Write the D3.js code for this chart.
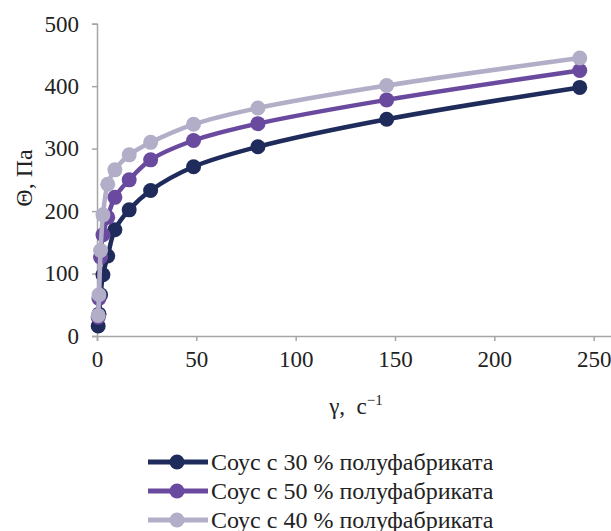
<!DOCTYPE html>
<html>
<head>
<meta charset="utf-8">
<script src="https://cdn.jsdelivr.net/npm/d3@7"></script>
<style>
  body { margin: 0; background: #fff; }
  svg { display: block; font-family: "Liberation Serif", "Times New Roman", serif; }
</style>
</head>
<body>
<svg id="chart" width="611" height="531"></svg>
<script>
// shear rate, 1/s
var shearRate = [0.6, 1.0, 1.8, 3.0, 5.4, 9, 16.2, 27, 48.6, 81, 145.8, 243];
var stress30 = [16, 35, 66, 98, 128, 170, 202, 233, 271, 303, 347, 398];
var stress50 = [30, 60, 126, 162, 190, 222, 250, 282, 313, 340, 378, 425];
var stress40 = [33, 66, 137, 194, 243, 266, 290, 310, 339, 365, 401, 445];
var seriesNames = ['Соус с 30 % полуфабриката', 'Соус с 50 % полуфабриката', 'Соус с 40 % полуфабриката'];
var seriesColors = ['#1f2b5b', '#6a4a9e', '#b3aec8'];
var xTicks = [0, 50, 100, 150, 200, 250];
var yTicks = [0, 100, 200, 300, 400, 500];

var series = [stress30, stress50, stress40].map(function (vals, i) {
    return {
        name: seriesNames[i],
        color: seriesColors[i],
        points: vals.map(function (v, j) { return [shearRate[j], v]; })
    };
});

var svg = d3.select('#chart');
var axisColor = '#a6a6a6';

var x = d3.scaleLinear().domain([0, 300]).range([97, 693]);
var y = d3.scaleLinear().domain([0, 500]).range([336, 23.7]);

// y axis
var yAxis = svg.append('g')
    .attr('transform', 'translate(97,0)')
    .call(d3.axisLeft(y).tickValues(yTicks).tickSize(5).tickPadding(13));
yAxis.select('.domain').attr('stroke', axisColor).attr('stroke-width', 1.5);
yAxis.selectAll('.tick line').attr('stroke', axisColor).attr('stroke-width', 1.5);
yAxis.selectAll('.tick text')
    .attr('font-size', 23)
    .attr('font-family', '"Liberation Serif", serif')
    .attr('fill', '#222');

// x axis
var xAxis = svg.append('g')
    .attr('transform', 'translate(0,336)')
    .call(d3.axisBottom(x).tickValues(xTicks).tickSize(5).tickPadding(10));
xAxis.select('.domain').attr('stroke', axisColor).attr('stroke-width', 1.5);
xAxis.selectAll('.tick line').attr('stroke', axisColor).attr('stroke-width', 1.5);
xAxis.selectAll('.tick text')
    .attr('font-size', 23)
    .attr('font-family', '"Liberation Serif", serif')
    .attr('fill', '#222');

// axis titles
svg.append('text')
    .attr('transform', 'translate(32,178) rotate(-90)')
    .attr('text-anchor', 'middle')
    .attr('font-size', 24)
    .attr('fill', '#222')
    .text('Θ, Па');

var xt = svg.append('text')
    .attr('x', 356)
    .attr('y', 414)
    .attr('text-anchor', 'middle')
    .attr('font-size', 23)
    .attr('fill', '#222');
xt.append('tspan').text('γ,\u00a0\u00a0с');
xt.append('tspan').attr('dy', -9).attr('font-size', 15).text('−1');

// lines and markers
var line = d3.line()
    .x(function (d) { return x(d[0]); })
    .y(function (d) { return y(d[1]); })
    .curve(d3.curveCatmullRom.alpha(0.5));

var g = svg.selectAll('g.series')
    .data(series)
    .enter().append('g')
    .attr('class', 'series');

g.append('path')
    .attr('d', function (d) { return line(d.points); })
    .attr('fill', 'none')
    .attr('stroke', function (d) { return d.color; })
    .attr('stroke-width', 4.5);

g.selectAll('circle')
    .data(function (d) { return d.points.map(function (p) { return { p: p, color: d.color }; }); })
    .enter().append('circle')
    .attr('cx', function (d) { return x(d.p[0]); })
    .attr('cy', function (d) { return y(d.p[1]); })
    .attr('r', 7.5)
    .attr('fill', function (d) { return d.color; });

// legend
var legend = svg.selectAll('g.legend')
    .data(series)
    .enter().append('g')
    .attr('class', 'legend')
    .attr('transform', function (d, i) { return 'translate(148,' + (462 + i * 29) + ')'; });

legend.append('line')
    .attr('x1', 0).attr('x2', 60)
    .attr('stroke', function (d) { return d.color; })
    .attr('stroke-width', 5);
legend.append('circle')
    .attr('cx', 29).attr('r', 7.5)
    .attr('fill', function (d) { return d.color; });
legend.append('text')
    .attr('x', 63)
    .attr('y', 8)
    .attr('font-size', 24)
    .attr('fill', '#222')
    .text(function (d) { return d.name; });
</script>
</body>
</html>
